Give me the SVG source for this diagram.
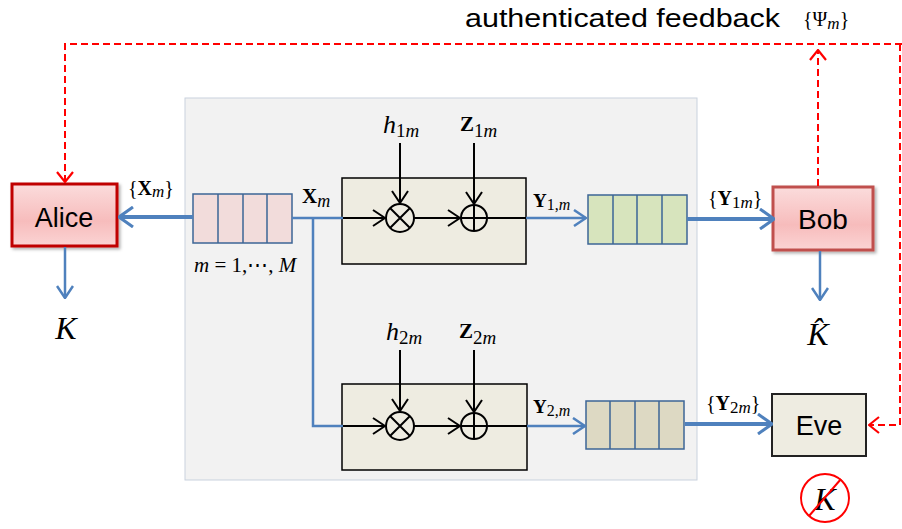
<svg xmlns="http://www.w3.org/2000/svg" width="902" height="529" viewBox="0 0 902 529">
<defs>
<linearGradient id="pink" x1="0" y1="0" x2="0" y2="1">
<stop offset="0" stop-color="#fbdcdc"/><stop offset="0.6" stop-color="#f7bcbc"/><stop offset="1" stop-color="#fbd4d4"/>
</linearGradient>
<filter id="sh" x="-10%" y="-10%" width="130%" height="130%"><feDropShadow dx="2" dy="2" stdDeviation="1.5" flood-color="#000" flood-opacity="0.3"/></filter>
<marker id="ab" viewBox="0 0 16 22" refX="15" refY="11" markerWidth="16" markerHeight="22" markerUnits="userSpaceOnUse" orient="auto"><path d="M1,1 L15,11 L1,21" fill="none" stroke="#4f81bd" stroke-width="3"/></marker>
<marker id="abs" viewBox="0 0 14 18" refX="13" refY="9" markerWidth="14" markerHeight="18" markerUnits="userSpaceOnUse" orient="auto"><path d="M1,1 L13,9 L1,17" fill="none" stroke="#4f81bd" stroke-width="2.5"/></marker>
<marker id="ak" viewBox="0 0 14 18" refX="13" refY="9" markerWidth="14" markerHeight="18" markerUnits="userSpaceOnUse" orient="auto"><path d="M1,1 L13,9 L1,17" fill="none" stroke="#000" stroke-width="2"/></marker>
<marker id="ar" viewBox="0 0 12 18" refX="11" refY="9" markerWidth="12" markerHeight="18" markerUnits="userSpaceOnUse" orient="auto"><path d="M1,1 L11,9 L1,17" fill="none" stroke="#ff0000" stroke-width="2.2"/></marker>
</defs>
<style>
.panel{fill:#f2f2f2;stroke:#c9d2de;stroke-width:1}
.chan{fill:#eeece1;stroke:#000;stroke-width:1.5}
.q{stroke:#3d6696;stroke-width:1.5}
.blk{stroke:#000;stroke-width:2;fill:none}
.blue{stroke:#4f81bd;fill:none}
.red{stroke:#ff0000;stroke-width:2;fill:none;stroke-dasharray:7,4}
.m{font-family:'Liberation Serif',serif;fill:#000}
.s{font-family:'Liberation Sans',Arial,sans-serif;fill:#000}
</style>
<rect class="panel" x="185" y="98" width="512" height="382"/>

<g id="alice">
<rect x="12" y="184" width="105" height="62" fill="url(#pink)" stroke="#c00000" stroke-width="3" filter="url(#sh)"/>
<text class="s" x="64" y="227" font-size="27" text-anchor="middle">Alice</text>
</g>
<g id="K-alice"><text class="m" x="66" y="339" font-size="32" font-style="italic" text-anchor="middle">K</text></g>

<g id="queue1">
<rect class="q" x="193" y="194" width="99" height="49" fill="#f2dcdb"/>
<path class="q" d="M218,194 V243 M243,194 V243 M267,194 V243"/>
<text class="m" x="128" y="195" font-size="20">{<tspan font-weight="bold">X</tspan><tspan font-style="italic" font-size="17" dy="2">m</tspan><tspan dy="-2">}</tspan></text>
<text class="m" x="194" y="272" font-size="21"><tspan font-style="italic">m</tspan> = 1,⋯, <tspan font-style="italic">M</tspan></text>
<text class="m" x="302" y="203" font-size="21" font-weight="bold">X<tspan font-style="italic" font-weight="normal" font-size="18" dy="4">m</tspan></text>
</g>

<g id="channel1">
<rect class="chan" x="342" y="178" width="184" height="86"/>
<circle cx="400" cy="218" r="14" fill="none" stroke="#000" stroke-width="2"/>
<path class="blk" d="M390,208 L410,228 M410,208 L390,228"/>
<circle cx="474" cy="218" r="13" fill="none" stroke="#000" stroke-width="2"/>
<path class="blk" d="M474,205 V231 M461,218 H487"/>
<text class="m" x="383" y="133" font-size="26" font-style="italic">h<tspan font-style="normal" font-size="19" dy="4">1</tspan><tspan font-size="19">m</tspan></text>
<text class="m" x="460" y="131" font-size="21" font-weight="bold">Z<tspan font-weight="normal" font-size="19" dy="6">1</tspan><tspan font-weight="normal" font-style="italic" font-size="19">m</tspan></text>
<text class="m" x="533" y="207" font-size="19" font-weight="bold">Y<tspan font-weight="normal" font-size="16" dy="3">1,</tspan><tspan font-weight="normal" font-style="italic" font-size="16">m</tspan></text>
</g>

<g id="queue2">
<rect class="q" x="588" y="195" width="99" height="49" fill="#d7e4bd"/>
<path class="q" d="M613,195 V244 M637,195 V244 M662,195 V244"/>
<text class="m" x="708" y="205" font-size="20">{<tspan font-weight="bold">Y</tspan><tspan font-size="17" dy="3">1</tspan><tspan font-style="italic" font-size="17">m</tspan><tspan dy="-3">}</tspan></text>
</g>

<g id="bob">
<rect x="773" y="187" width="100" height="63" fill="url(#pink)" stroke="#c0504d" stroke-width="3" filter="url(#sh)"/>
<text class="s" x="823" y="229" font-size="28" text-anchor="middle">Bob</text>
</g>
<g id="K-bob"><text class="m" x="818" y="345" font-size="32" font-style="italic" text-anchor="middle">K&#770;</text></g>

<g id="channel2">
<rect class="chan" x="342" y="384" width="185" height="86"/>
<circle cx="400" cy="426" r="14" fill="none" stroke="#000" stroke-width="2"/>
<path class="blk" d="M390,416 L410,436 M410,416 L390,436"/>
<circle cx="474" cy="426" r="13" fill="none" stroke="#000" stroke-width="2"/>
<path class="blk" d="M474,413 V439 M461,426 H487"/>
<text class="m" x="386" y="340" font-size="26" font-style="italic">h<tspan font-style="normal" font-size="19" dy="4">2</tspan><tspan font-size="19">m</tspan></text>
<text class="m" x="459" y="338" font-size="21" font-weight="bold">Z<tspan font-weight="normal" font-size="19" dy="6">2</tspan><tspan font-weight="normal" font-style="italic" font-size="19">m</tspan></text>
<text class="m" x="533" y="413" font-size="19" font-weight="bold">Y<tspan font-weight="normal" font-size="16" dy="3">2,</tspan><tspan font-weight="normal" font-style="italic" font-size="16">m</tspan></text>
</g>

<g id="queue3">
<rect class="q" x="586" y="401" width="98" height="48" fill="#ddd9c3"/>
<path class="q" d="M610,401 V449 M635,401 V449 M659,401 V449"/>
<text class="m" x="706" y="410" font-size="20">{<tspan font-weight="bold">Y</tspan><tspan font-size="17" dy="3">2</tspan><tspan font-style="italic" font-size="17">m</tspan><tspan dy="-3">}</tspan></text>
</g>

<g id="eve">
<rect x="772" y="394" width="94" height="62" fill="#eeece1" stroke="#222" stroke-width="2"/>
<text class="s" x="819" y="435" font-size="27" text-anchor="middle">Eve</text>
</g>
<g id="K-eve">
<circle cx="825" cy="498" r="24" fill="none" stroke="#ff0000" stroke-width="2"/>
<text class="m" x="825" y="510" font-size="32" font-style="italic" text-anchor="middle">K</text>
<path d="M809,516 L841,479" stroke="#ff0000" stroke-width="2"/>
</g>

<g id="feedback-label">
<text class="s" x="465" y="27" font-size="25" textLength="315" lengthAdjust="spacingAndGlyphs">authenticated feedback</text>
<text class="m" x="803" y="26" font-size="20">{Ψ<tspan font-style="italic" font-size="17" dy="3">m</tspan><tspan dy="-3">}</tspan></text>
</g>

<g id="connectors">
<path class="red" d="M818,186 L818,50" marker-end="url(#ar)"/>
<path class="red" d="M902,44 L65,44 L65,182" marker-end="url(#ar)"/>
<path class="red" d="M900,44 L900,425 L869,425" marker-end="url(#ar)"/>
<path class="blue" stroke-width="4" d="M193,217 L119,217" marker-end="url(#ab)"/>
<path class="blue" stroke-width="2.5" d="M65,247 L65,298" marker-end="url(#abs)"/>
<path class="blue" stroke-width="2.5" d="M292,218 L343,218"/>
<path class="blue" stroke-width="2.5" d="M313,218 L313,426 L343,426"/>
<path class="blk" d="M343,218 L385,218" marker-end="url(#ak)"/>
<path class="blk" d="M414,218 L460,218" marker-end="url(#ak)"/>
<path class="blk" d="M487,218 L526,218"/>
<path class="blk" d="M400,143 L400,203" marker-end="url(#ak)"/>
<path class="blk" d="M474,143 L474,204" marker-end="url(#ak)"/>
<path class="blue" stroke-width="2.5" d="M526,218 L586,218" marker-end="url(#abs)"/>
<path class="blue" stroke-width="4" d="M687,219 L774,219" marker-end="url(#ab)"/>
<path class="blue" stroke-width="2.5" d="M820,251 L820,300" marker-end="url(#abs)"/>
<path class="blk" d="M343,426 L385,426" marker-end="url(#ak)"/>
<path class="blk" d="M414,426 L460,426" marker-end="url(#ak)"/>
<path class="blk" d="M487,426 L527,426"/>
<path class="blk" d="M400,350 L400,411" marker-end="url(#ak)"/>
<path class="blk" d="M474,350 L474,412" marker-end="url(#ak)"/>
<path class="blue" stroke-width="2.5" d="M527,426 L585,426" marker-end="url(#abs)"/>
<path class="blue" stroke-width="4" d="M685,424 L772,424" marker-end="url(#ab)"/>
</g>
</svg>
